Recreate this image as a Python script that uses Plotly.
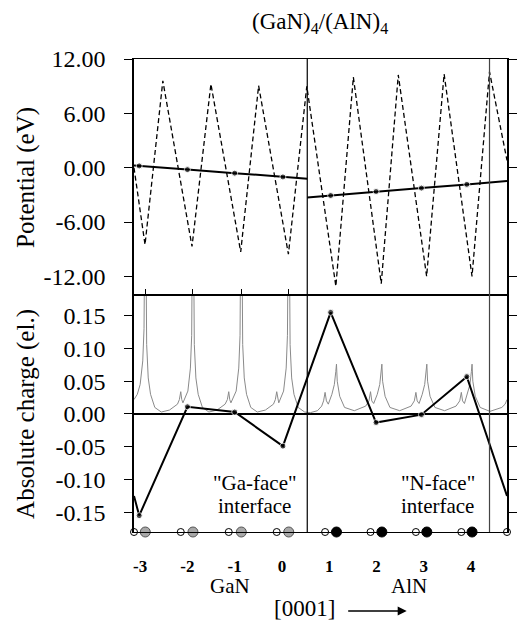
import plotly.graph_objects as go

# ---------------- data ----------------
layer_idx = [-3, -2, -1, 0, 1, 2, 3, 4]
layer_labels = ["-3", "-2", "-1", "0", "1", "2", "3", "4"]

pot_ticks = [-12, -6, 0, 6, 12]
pot_tick_labels = ["-12.00", "-6.00", "0.00", "6.00", "12.00"]
chg_ticks = [-0.15, -0.10, -0.05, 0.0, 0.05, 0.10, 0.15]
chg_tick_labels = ["-0.15", "-0.10", "-0.05", "0.00", "0.05", "0.10", "0.15"]

# atom positions along [0001]
n_x = [-3.13, -2.141, -1.126, -0.111, 0.912, 1.873, 2.833, 3.794, 4.76]
ga_x = [-2.891, -1.883, -0.860, 0.143]
al_x = [1.153, 2.113, 3.064, 4.021]
interface_x = [0.535, 4.39]

# planar-averaged potential (dashed)
pot_x = [-3.13, -2.897, -2.52, -1.903, -1.503, -0.873, -0.494, 0.136, 0.525,
         1.14, 1.51, 2.10, 2.46, 3.06, 3.43, 4.02, 4.39, 4.76]
pot_y = [0.0, -8.5, 9.6, -8.7, 9.25, -9.3, 9.06, -9.55, 9.0,
         -13.1, 10.0, -12.8, 10.25, -12.0, 10.35, -12.0, 10.6, 0.8]

# macroscopic averages
gan_avg_x = [-3.13, -3.02, -2.0, -1.0, 0.02, 0.535]
gan_avg_y = [0.25, 0.20, -0.21, -0.60, -1.02, -1.21]
aln_avg_x = [0.535, 1.03, 1.99, 2.95, 3.91, 4.76]
aln_avg_y = [-3.3, -3.07, -2.63, -2.25, -1.84, -1.47]

# layer charges
chg_x = [-3.13, -3.02, -2.0, -1.0, 0.02, 1.03, 1.99, 2.95, 3.91, 4.76]
chg_y = [-0.125, -0.155, 0.011, 0.003, -0.049, 0.155, -0.013, -0.001, 0.057, -0.125]

# charge density (thin gray)
dens_x = [-3.13, -3.06, -3.00, -2.945, -2.918, -2.891, -2.862, -2.829, -2.78, -2.69, -2.553, -2.38, -2.21, -2.17, -2.141, -2.12, -2.095, -1.99, -1.937, -1.91, -1.883,
          -1.854, -1.821, -1.772, -1.683, -1.545, -1.374, -1.203, -1.155, -1.126, -1.105, -1.08, -0.969, -0.914, -0.887, -0.860,
          -0.831, -0.798, -0.749, -0.66, -0.522, -0.351, -0.18, -0.14, -0.111, -0.09, -0.068, 0.034, 0.089, 0.116, 0.143,
          0.172, 0.205, 0.254, 0.343, 0.48, 0.60, 0.75, 0.84, 0.88, 0.912, 0.94, 0.98, 1.056, 1.108, 1.139, 1.153,
          1.169, 1.221, 1.324, 1.53, 1.771, 1.84, 1.873, 1.90, 1.94, 2.016, 2.068, 2.099, 2.113,
          2.129, 2.181, 2.284, 2.49, 2.731, 2.80, 2.833, 2.86, 2.90, 2.967, 3.019, 3.05, 3.064,
          3.08, 3.132, 3.235, 3.44, 3.682, 3.76, 3.794, 3.82, 3.86, 3.924, 3.976, 4.007, 4.021,
          4.037, 4.089, 4.192, 4.40, 4.65, 4.72, 4.76]
dens_y = [0.022, 0.03, 0.045, 0.081, 0.13, 0.40, 0.106, 0.055, 0.030, 0.010, 0.003, 0.006, 0.015, 0.022, 0.034, 0.022, 0.017, 0.035, 0.07, 0.12, 0.40,
          0.106, 0.055, 0.030, 0.010, 0.003, 0.006, 0.015, 0.022, 0.034, 0.022, 0.017, 0.035, 0.07, 0.12, 0.40,
          0.106, 0.055, 0.030, 0.010, 0.003, 0.006, 0.015, 0.022, 0.034, 0.022, 0.017, 0.035, 0.07, 0.12, 0.40,
          0.106, 0.055, 0.030, 0.010, 0.003, 0.002, 0.005, 0.012, 0.02, 0.033, 0.02, 0.015, 0.03, 0.045, 0.065, 0.076,
          0.05, 0.027, 0.01, 0.005, 0.012, 0.02, 0.034, 0.02, 0.016, 0.03, 0.045, 0.065, 0.076,
          0.05, 0.027, 0.01, 0.005, 0.012, 0.02, 0.033, 0.02, 0.016, 0.03, 0.045, 0.065, 0.076,
          0.05, 0.027, 0.01, 0.005, 0.012, 0.02, 0.033, 0.02, 0.016, 0.03, 0.045, 0.065, 0.076,
          0.05, 0.027, 0.01, 0.004, 0.01, 0.015, 0.022]

# ---------------- figure ----------------
W, H = 520, 624
ML, MR, MT, MB = 134, 3, 59, 92
PW, PH = W - ML - MR, H - MT - MB
XR = [-3.13, 4.76]
split = (532 - 295) / PH

def px(x):
    return (x - ML) / PW

def py(y):
    return 1 - (y - MT) / PH

FONT = '"Liberation Serif", "Times New Roman", Times, serif'
fig = go.Figure()

# top panel
fig.add_trace(go.Scatter(x=pot_x, y=pot_y, mode="lines", xaxis="x2", yaxis="y2",
                         line=dict(color="black", width=1.3, dash="5px,3px")))
for ax_, ay_ in [(gan_avg_x, gan_avg_y), (aln_avg_x, aln_avg_y)]:
    fig.add_trace(go.Scatter(x=ax_, y=ay_, mode="lines+markers", xaxis="x2", yaxis="y2",
                             line=dict(color="black", width=2),
                             marker=dict(color="black", size=[0, 6, 6, 6, 6, 0])))

# bottom panel
fig.add_trace(go.Scatter(x=dens_x, y=dens_y, mode="lines", xaxis="x", yaxis="y",
                         line=dict(color="#8a8a8a", width=1)))
fig.add_trace(go.Scatter(x=chg_x, y=chg_y, mode="lines+markers", xaxis="x", yaxis="y",
                         line=dict(color="black", width=2),
                         marker=dict(color="black", size=[0] + [6] * 8 + [0])))

ybot = -0.18
fig.add_trace(go.Scatter(x=n_x, y=[ybot] * len(n_x), mode="markers", cliponaxis=False,
                         marker=dict(color="white", size=7, line=dict(color="black", width=1))))
fig.add_trace(go.Scatter(x=ga_x, y=[ybot] * len(ga_x), mode="markers", cliponaxis=False,
                         marker=dict(color="#a8a8a8", size=10, line=dict(color="#555", width=1))))
fig.add_trace(go.Scatter(x=al_x, y=[ybot] * len(al_x), mode="markers", cliponaxis=False,
                         marker=dict(color="black", size=10, line=dict(color="black", width=1))))

shapes = []
for i, xv in enumerate(interface_x):
    shapes.append(dict(type="line", xref="x", yref="paper", x0=xv, x1=xv, y0=0, y1=1,
                       line=dict(color="black" if i == 0 else "#444", width=1.2)))

yax = dict(showline=True, linecolor="black", linewidth=1.5, mirror="ticks",
           ticks="outside", ticklen=8, tickwidth=1.2, tickcolor="black",
           showgrid=False, ticklabelstandoff=14,
           tickfont=dict(family=FONT, size=24, color="black"))

fig.update_layout(
    width=W, height=H, margin=dict(l=ML, r=MR, t=MT, b=MB),
    paper_bgcolor="white", plot_bgcolor="white", showlegend=False,
    xaxis=dict(domain=[0, 1], range=XR, showline=True, linecolor="black", linewidth=1.2,
               mirror=True, ticks="", showgrid=False, zeroline=False,
               tickvals=layer_idx, ticktext=layer_labels, ticklabelstandoff=18,
               tickfont=dict(family=FONT, size=17, color="black", weight="bold")),
    xaxis2=dict(domain=[0, 1], range=XR, anchor="y2", matches="x", showline=True,
                linecolor="black", linewidth=1.2, mirror=True, ticks="inside", ticklen=6,
                tickcolor="black", tickvals=ga_x, showticklabels=False,
                showgrid=False, zeroline=False),
    yaxis=dict(domain=[0, split], range=[-0.18, 0.1815], tickvals=chg_ticks,
               ticktext=chg_tick_labels, zeroline=True, zerolinecolor="black",
               zerolinewidth=1.5, **yax),
    yaxis2=dict(domain=[split, 1], range=[-14.06, 12.01], anchor="x2", tickvals=pot_ticks,
                ticktext=pot_tick_labels, zeroline=False, **yax),
    shapes=shapes,
)

ann = []
def txt(t, x, y, size, angle=0):
    ann.append(dict(text=t, x=px(x), y=py(y), xref="paper", yref="paper", showarrow=False,
                    xanchor="center", yanchor="middle", textangle=angle,
                    font=dict(family=FONT, size=size, color="black")))

txt("(GaN)<sub>4</sub>/(AlN)<sub>4</sub>", 325, 23, 23)
txt("Potential (eV)", 23, 177, 25, -90)
txt("Absolute charge (el.)", 23, 414, 25, -90)
txt("\"Ga-face\"", 258, 483, 21)
txt("interface", 258, 506, 21)
txt("\"N-face\"", 446, 483, 21)
txt("interface", 446, 506, 21)
txt("GaN", 233, 586, 21)
txt("AlN", 416, 586, 21)
txt("[0001]", 309, 608, 23)
ann.append(dict(text="", x=px(414), y=py(611), xref="paper", yref="paper",
                ax=-60, ay=0, showarrow=True, arrowhead=2, arrowsize=1.2,
                arrowwidth=1.5, arrowcolor="black"))
fig.update_layout(annotations=ann)

fig.write_html("out.html", config={"displayModeBar": False},
               post_script="document.body.style.margin='0';")
